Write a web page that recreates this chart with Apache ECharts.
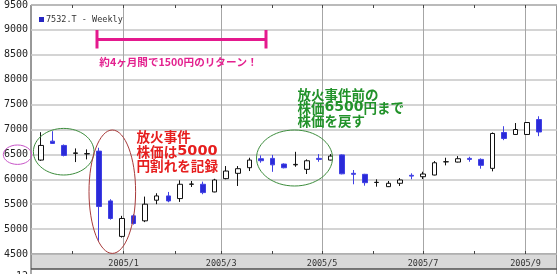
<!DOCTYPE html>
<html>
<head>
<meta charset="utf-8">
<script src="https://cdn.jsdelivr.net/npm/echarts@6/dist/echarts.min.js"></script>
<style>
html,body{margin:0;padding:0;background:#fff;}
#c{width:557px;height:274px;}
</style>
</head>
<body>
<div id="c"></div>
<script>
// ---- data (weekly candles, 7532.T) ----
const weeks = ['2004-11-12','2004-11-19','2004-11-26','2004-12-03','2004-12-10','2004-12-17','2004-12-24','2004-12-31',
  '2005-01-07','2005-01-14','2005-01-21','2005-01-28','2005-02-04','2005-02-11','2005-02-18','2005-02-25',
  '2005-03-04','2005-03-11','2005-03-18','2005-03-25','2005-04-01','2005-04-08','2005-04-15','2005-04-22','2005-04-29',
  '2005-05-06','2005-05-13','2005-05-20','2005-05-27','2005-06-03','2005-06-10','2005-06-17','2005-06-24',
  '2005-07-01','2005-07-08','2005-07-15','2005-07-22','2005-07-29','2005-08-05','2005-08-12','2005-08-19','2005-08-26',
  '2005-09-02','2005-09-09'];
const opens  = [6386,6766,6680,6520,6510,6566,5566,4853,5266,5166,5580,5666,5613,5900,5900,5746,6013,6120,6233,6413,6420,6306,6290,6200,6420,6386,6490,6120,6100,5936,5852,5920,6080,6052,6086,6350,6346,6420,6400,6220,6940,6900,6900,7200];
const closes = [6680,6720,6480,6530,6515,5453,5213,5213,5113,5500,5666,5566,5900,5905,5733,5986,6166,6213,6386,6373,6290,6232,6300,6372,6400,6466,6110,6100,5932,5940,5920,5986,6064,6106,6332,6353,6413,6400,6280,6920,6820,7000,7140,6950];
const lows   = [6370,6710,6460,6346,6400,4766,5190,4830,5090,5140,5500,5540,5546,5846,5700,5740,6000,5866,6166,6333,6150,6220,6252,6106,6352,6380,6100,5900,5872,5852,5845,5866,6000,6006,6080,6280,6340,6353,6213,6160,6786,6890,6890,6866];
const highs  = [6946,6966,6700,6620,6600,6633,5600,5266,5300,5653,5720,5746,5980,5966,5953,6010,6266,6266,6433,6480,6490,6320,6552,6400,6506,6506,6500,6186,6110,6000,5966,6026,6120,6152,6366,6433,6466,6453,6420,6940,7066,7130,7150,7266];
const seriesName = '7532.T - Weekly';
const yMin = 4500, yMax = 9500, yStep = 500;
const axisStart = [2004, 10, 6];   // first day on the time axis (UTC y, m0, d)
const axisDays = 319;               // number of day slots on the axis
const labelMonths = [1, 3, 5, 7, 9];

// ---- build daily category axis ----
const days = [];
const t0 = Date.UTC(axisStart[0], axisStart[1], axisStart[2]);
const pad = n => (n < 10 ? '0' : '') + n;
for (let i = 0; i < axisDays; i++) {
  const d = new Date(t0 + i * 86400000);
  days.push(d.getUTCFullYear() + '-' + pad(d.getUTCMonth() + 1) + '-' + pad(d.getUTCDate()));
}
const isMonthStart = (i, v) => v.slice(8) === '01';
const isLabelMonth = (i, v) => v.slice(8) === '01' && labelMonths.indexOf(+v.slice(5, 7)) >= 0;

const candles = weeks.map((w, i) => [w, opens[i], closes[i], lows[i], highs[i]]);

const L = 31, W = 536.5;
const mono = 'DejaVu Sans Mono';
const jp = 'Noto Sans CJK JP';

const chart = echarts.init(document.getElementById('c'), null, {renderer: 'canvas'});
chart.setOption({
  animation: false,
  backgroundColor: '#fff',
  legend: {
    left: 34, top: 10, icon: 'rect', itemWidth: 5, itemHeight: 5,
    data: [{name: seriesName, itemStyle: {color: '#2626c2', borderWidth: 0}}],
    textStyle: {fontFamily: mono, fontSize: 8.5, color: '#333', padding: [0, 0, 0, -3]}
  },
  grid: [
    {left: L, top: 4, width: W, height: 250, show: true, backgroundColor: '#fff', borderColor: '#333', borderWidth: 1},
    {left: L, top: 254, width: W, height: 15, show: true, backgroundColor: '#d9d9d9', borderColor: '#444', borderWidth: 1},
    {left: L, top: 269, width: W, height: 80, show: true, backgroundColor: 'transparent', borderColor: '#555', borderWidth: 1}
  ],
  xAxis: [
    {gridIndex: 0, type: 'category', data: days, boundaryGap: false, position: 'bottom',
     axisLine: {show: false},
     axisTick: {show: true, inside: true, length: 3, interval: isMonthStart, lineStyle: {color: '#444'}},
     axisLabel: {show: true, interval: isLabelMonth, margin: 5, fontFamily: mono, fontSize: 8.5, color: '#333',
                 formatter: v => v.slice(0, 4) + '/' + (+v.slice(5, 7))},
     splitLine: {show: true, interval: isLabelMonth, lineStyle: {color: '#a6a6a6', width: 1}}},
    {gridIndex: 0, type: 'category', data: days, boundaryGap: false, position: 'top',
     axisLine: {show: false}, axisLabel: {show: false}, splitLine: {show: false},
     axisTick: {show: true, inside: true, length: 3, interval: isMonthStart, lineStyle: {color: '#444'}}},
    {gridIndex: 1, type: 'category', data: days, boundaryGap: false, show: false},
    {gridIndex: 2, type: 'category', data: days, boundaryGap: false, position: 'top',
     axisLine: {show: false}, axisLabel: {show: false}, splitLine: {show: false},
     axisTick: {show: true, inside: true, length: 4, interval: isMonthStart, lineStyle: {color: '#444'}}}
  ],
  yAxis: [
    {gridIndex: 0, type: 'value', min: yMin, max: yMax, interval: yStep,
     axisLine: {show: false}, axisTick: {show: false},
     axisLabel: {fontFamily: mono, fontSize: 10, color: '#222', margin: 3, formatter: v => String(v)},
     splitLine: {show: true, lineStyle: {color: '#c6c6c6', width: 1.5}}},
    {gridIndex: 1, type: 'value', show: false},
    {gridIndex: 2, type: 'value', min: 0, max: 12, interval: 12,
     axisLine: {show: false}, axisTick: {show: false}, splitLine: {show: false},
     axisLabel: {fontFamily: mono, fontSize: 10, color: '#222', margin: 3, verticalAlign: 'top', padding: [2, 0, 0, 0],
                 formatter: v => String(v)}}
  ],
  series: [{
    name: seriesName, type: 'candlestick', xAxisIndex: 0, yAxisIndex: 0,
    data: candles, encode: {x: 0, y: [1, 2, 3, 4]},
    barWidth: 5,
    itemStyle: {color: '#ffffff', color0: '#2a2ad8', borderColor: '#111', borderColor0: '#4040e4', borderWidth: 1}
  }],
  graphic: [
    // annotation ellipses
    {type: 'ellipse', shape: {cx: 63.7, cy: 151.7, rx: 30.3, ry: 23.3}, style: {fill: 'none', stroke: '#3d8d3d', lineWidth: 1}, z: 10},
    {type: 'ellipse', shape: {cx: 112.3, cy: 191.7, rx: 23.3, ry: 61.7}, style: {fill: 'none', stroke: '#a83a3a', lineWidth: 1}, z: 10},
    {type: 'ellipse', shape: {cx: 294.5, cy: 158, rx: 38, ry: 28}, style: {fill: 'none', stroke: '#3d8d3d', lineWidth: 1}, z: 10},
    {type: 'ellipse', shape: {cx: 17.5, cy: 154.7, rx: 14.2, ry: 9.7}, style: {fill: 'none', stroke: '#c855c8', lineWidth: 1}, z: 10},
    // magenta bracket
    {type: 'line', shape: {x1: 97, y1: 39.5, x2: 266, y2: 39.5}, style: {stroke: '#e4198d', lineWidth: 3}, z: 10},
    {type: 'line', shape: {x1: 97, y1: 30, x2: 97, y2: 48.5}, style: {stroke: '#e4198d', lineWidth: 3}, z: 10},
    {type: 'line', shape: {x1: 266, y1: 30, x2: 266, y2: 48.5}, style: {stroke: '#e4198d', lineWidth: 3}, z: 10},
    {type: 'text', z: 10, style: {text: '約4ヶ月間で1500円のリターン！', x: 178.5, y: 62, align: 'center', verticalAlign: 'middle',
      fill: '#e3218f', fontFamily: jp, fontSize: 10.6, fontWeight: 'bold'}},
    {type: 'text', z: 10, style: {text: '放火事件\n株価は{d|5000}\n円割れを記録', x: 136.5, y: 129.8, align: 'left', verticalAlign: 'top',
      fill: '#e61e1e', fontFamily: jp, fontSize: 13.6, fontWeight: 'bold', lineHeight: 14.5,
      rich: {d: {fill: '#e61e1e', fontFamily: 'DejaVu Sans', fontSize: 14.5, fontWeight: 'bold', lineHeight: 14.5}}}},
    {type: 'text', z: 10, style: {text: '放火事件前の\n株価{d|6500}円まで\n株価を戻す', x: 297.5, y: 88.5, align: 'left', verticalAlign: 'top',
      fill: '#22922a', fontFamily: jp, fontSize: 13.5, fontWeight: 'bold', lineHeight: 12.9,
      rich: {d: {fill: '#22922a', fontFamily: 'DejaVu Sans', fontSize: 14, fontWeight: 'bold', lineHeight: 12.9}}}}
  ]
});
</script>
</body>
</html>
